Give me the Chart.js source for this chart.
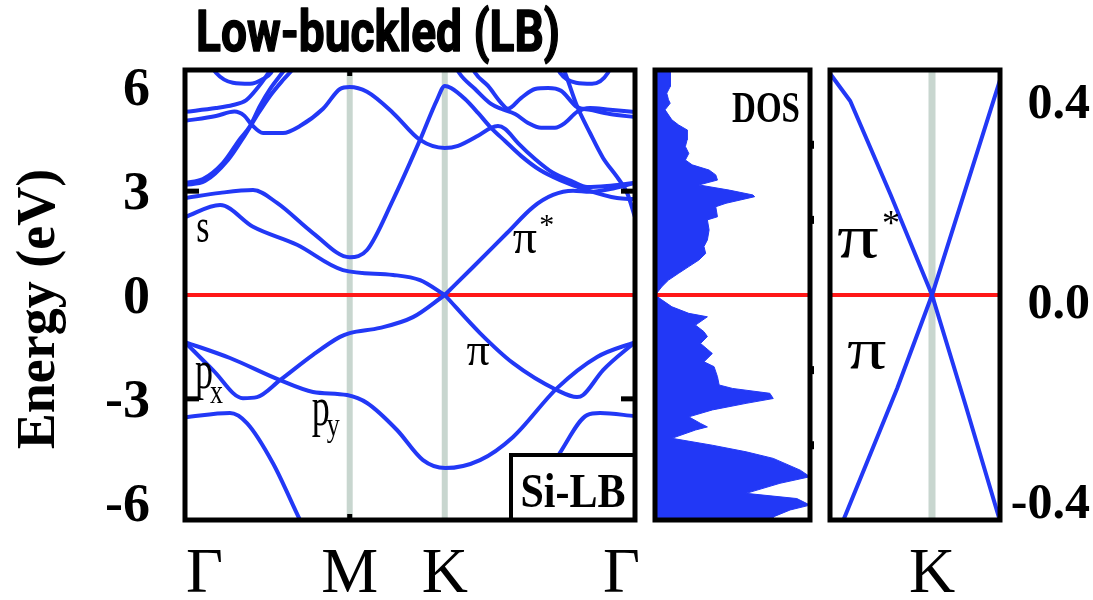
<!DOCTYPE html>
<html>
<head>
<meta charset="utf-8">
<script src="https://cdn.jsdelivr.net/npm/chart.js@4.4.1/dist/chart.umd.min.js"></script>
<style>
  html, body { margin: 0; padding: 0; background: #fff; }
  #wrap { position: relative; width: 1093px; height: 600px; }
  #wrap canvas { position: absolute; left: 0; top: 0; }
</style>
</head>
<body>
<div id="wrap">
  <canvas id="bands" width="1093" height="600"></canvas>
  <canvas id="dos" width="1093" height="600"></canvas>
  <canvas id="zoomK" width="1093" height="600"></canvas>
</div>
<script>
// path Γ-M-K-Γ, k in units of |ΓM|
const kPoints = [0, 1, 1.577, 2.732];
const kLabels = ['Γ', 'M', 'K', 'Γ'];
const energyTicks = [6, 3, 0, -3, -6];
const zoomTicks = [0.4, 0.0, -0.4];
const zoomTickLabels = ['0.4', '0.0', '-0.4'];

// bands as [k, E (eV)]
const bandS = [[0, 2.25], [0.213, 2.60], [0.413, 1.97], [0.680, 1.45], [0.959, 0.72], [1.263, 0.58], [1.427, 0.43], [1.577, 0]];
const bandC3 = [[0, 2.80], [0.213, 2.95], [0.413, 3.03], [0.559, 2.66], [0.777, 1.79], [1.0, 1.09], [1.105, 1.30], [1.263, 2.75],
  [1.427, 4.48], [1.530, 5.64], [1.577, 6.04], [1.615, 5.98], [1.700, 5.66], [1.779, 5.26], [1.858, 4.83], [1.943, 4.45],
  [2.040, 4.02], [2.155, 3.61], [2.277, 3.32], [2.441, 3.03], [2.623, 2.80], [2.732, 2.77]];
const bandC5 = [[0, 5.03], [0.188, 5.17], [0.300, 5.30], [0.360, 5.18], [0.405, 4.92], [0.474, 4.68], [0.595, 4.68], [0.698, 4.88],
  [0.838, 5.38], [0.941, 5.95], [1.0, 6.01], [1.105, 5.87], [1.263, 5.26], [1.427, 4.48], [1.577, 4.25], [1.658, 4.31],
  [1.779, 4.60], [1.858, 4.83], [1.900, 4.88], [1.943, 4.80], [2.022, 4.39], [2.125, 3.93], [2.234, 3.53], [2.356, 3.27],
  [2.441, 3.12], [2.562, 3.15], [2.732, 3.24]];
const bandC6 = [[0, 5.29], [0.188, 5.40], [0.291, 5.49], [0.370, 5.62], [0.440, 5.98], [0.490, 6.30], [0.530, 6.60], [0.570, 6.95]];
const bandC4a = [[0, 3.24], [0.109, 3.35], [0.231, 3.82], [0.334, 4.51], [0.395, 4.88], [0.455, 5.46], [0.516, 5.95], [0.595, 6.45], [0.638, 6.73]];
const bandC4b = [[0, 3.18], [0.121, 3.29], [0.261, 3.90], [0.364, 4.62], [0.443, 5.23], [0.516, 5.75], [0.595, 6.21], [0.650, 6.50], [0.686, 6.73]];
const arcLeft = [[0.14, 6.80], [0.188, 6.42], [0.291, 6.13], [0.395, 6.10], [0.474, 6.24], [0.522, 6.42], [0.56, 6.80]];
const arcRight = [[2.24, 6.80], [2.277, 6.42], [2.374, 6.13], [2.471, 6.10], [2.568, 6.42], [2.60, 6.80]];
const steepRight = [[2.27, 6.80], [2.307, 6.42], [2.380, 5.46], [2.459, 4.68], [2.538, 3.96], [2.623, 3.41], [2.684, 2.95], [2.732, 2.25]];
const diagA = [[1.61, 6.94], [1.664, 6.42], [1.761, 5.95], [1.858, 5.52], [1.919, 5.38], [2.004, 5.23], [2.083, 4.97], [2.162, 4.83],
  [2.246, 4.83], [2.307, 4.97], [2.380, 5.29], [2.459, 5.40], [2.580, 5.35], [2.732, 5.29]];
const diagB = [[1.71, 6.94], [1.761, 6.42], [1.840, 6.04], [1.919, 5.55], [1.961, 5.38], [2.040, 5.69], [2.125, 5.95], [2.204, 5.98],
  [2.283, 5.90], [2.380, 5.43], [2.459, 5.35], [2.580, 5.23], [2.732, 5.14]];
const piStarRight = [[1.577, 0], [1.749, 0.81], [1.955, 1.79], [2.113, 2.54], [2.234, 2.89], [2.356, 3.01], [2.459, 2.98], [2.580, 3.06], [2.732, 3.24]];
const bandV1 = [[0, -1.36], [0.170, -2.17], [0.352, -2.98], [0.437, -2.95], [0.577, -2.46], [0.777, -1.73], [0.941, -1.21], [1.0, -1.10],
  [1.184, -0.95], [1.384, -0.64], [1.577, 0]];
const bandV2 = [[0, -1.36], [0.273, -1.82], [0.577, -2.46], [0.777, -2.80], [0.984, -2.89], [1.105, -3.12], [1.287, -3.90], [1.445, -4.77],
  [1.58, -5.00], [1.791, -4.77], [1.992, -4.10], [2.259, -2.69], [2.502, -1.79], [2.732, -1.36]];
const bandV3 = [[1.577, 0], [1.791, -1.10], [1.992, -1.97], [2.259, -2.75], [2.380, -2.95], [2.417, -2.89], [2.538, -2.17], [2.732, -1.36]];
const bandV4 = [[0, -3.53], [0.273, -3.41], [0.376, -3.70], [0.534, -4.86], [0.698, -6.50], [0.759, -7.08]];
const bandV5 = [[1.943, -7.08], [2.065, -6.07], [2.155, -5.35], [2.259, -4.68], [2.441, -3.47], [2.520, -3.41], [2.732, -3.50]];

// density of states (arbitrary units) against energy
const dosEnergy = [6.50, 6.02, 5.83, 5.64, 5.54, 5.35, 5.06, 4.91, 4.77, 4.48, 4.29, 4.09, 3.90, 3.76, 3.61, 3.47, 3.32, 3.18,
  3.03, 2.89, 2.84, 2.65, 2.55, 2.26, 2.17, 1.88, 1.59, 1.40, 1.20, 1.01, 0.82, 0.63, 0.43, 0.24, 0.05, 0, -0.14, -0.34,
  -0.53, -0.63, -0.87, -1.06, -1.20, -1.40, -1.69, -1.93, -2.07, -2.36, -2.60, -2.70, -2.84, -2.99, -3.13, -3.32, -3.52,
  -3.71, -3.81, -3.90, -4.14, -4.34, -4.53, -4.72, -5.06, -5.25, -5.44, -5.73, -5.88, -6.07, -6.21, -6.41, -6.50];
const dosValue = [0.098, 0.098, 0.076, 0.087, 0.098, 0.065, 0.109, 0.153, 0.207, 0.207, 0.196, 0.218, 0.196, 0.240, 0.349,
  0.392, 0.403, 0.283, 0.479, 0.632, 0.643, 0.458, 0.392, 0.403, 0.338, 0.349, 0.338, 0.316, 0.327, 0.283, 0.218, 0.153,
  0.087, 0.044, 0.011, 0, 0.044, 0.109, 0.218, 0.338, 0.261, 0.316, 0.338, 0.294, 0.370, 0.316, 0.381, 0.403, 0.414, 0.501,
  0.741, 0.763, 0.588, 0.370, 0.218, 0.294, 0.338, 0.261, 0.109, 0.370, 0.588, 0.763, 0.937, 1.0, 0.806, 0.588, 0.915, 1.0,
  0.872, 0.763, 0.763];
const dosTicks = [4.34, 2.17, -2.17, -4.34];

// Dirac cone close to K, [k - K, E (eV)]
const diracA = [[-0.6, 0.443], [-0.481, 0.388], [-0.244, 0.201], [0, 0], [0.198, -0.221], [0.4, -0.452]];
const diracB = [[-0.521, -0.45], [-0.204, -0.186], [0, 0], [0.4, 0.43]];

const BLUE = 'rgb(34,56,246)';
const RED = 'rgb(255,24,24)';
const GREY = 'rgb(200,214,207)';
const SERIF = '"Liberation Serif", "Times New Roman", serif';
const LW = 4;

function text(ctx, str, x, y, font, opts) {
  const o = Object.assign({ align: 'center', base: 'alphabetic', sx: 1, sy: 1, stroke: 0 }, opts || {});
  ctx.save();
  ctx.translate(x, y);
  ctx.scale(o.sx, o.sy);
  ctx.font = font;
  ctx.fillStyle = '#000';
  ctx.textAlign = o.align;
  ctx.textBaseline = o.base;
  ctx.fillText(str, 0, 0);
  if (o.stroke) {
    ctx.strokeStyle = '#000';
    ctx.lineWidth = o.stroke;
    ctx.lineJoin = 'round';
    ctx.strokeText(str, 0, 0);
  }
  ctx.restore();
}

function frame(ctx, a, w) {
  ctx.save();
  ctx.strokeStyle = '#000';
  ctx.lineWidth = w;
  ctx.strokeRect(a.left, a.top, a.right - a.left, a.bottom - a.top);
  ctx.restore();
}

function lineSet(pts, color, width, order) {
  return {
    data: pts.map(p => ({ x: p[0], y: p[1] })),
    borderColor: color,
    borderWidth: width,
    pointRadius: 0,
    fill: false,
    cubicInterpolationMode: 'monotone',
    order: order || 0
  };
}

function hiddenScales(xmin, xmax, ymin, ymax) {
  return {
    x: { type: 'linear', min: xmin, max: xmax, display: false },
    y: { type: 'linear', min: ymin, max: ymax, display: false }
  };
}

const baseOptions = {
  responsive: false,
  animation: false,
  events: [],
  plugins: { legend: { display: false }, tooltip: { enabled: false } }
};

// ---------- band structure ----------
const bandNotes = [
  { t: 's', k: 0.109, e: 1.53, font: '34px ' + SERIF, sy: 1.4 },
  { t: 'π', k: 1.99, e: 1.21, font: '48px ' + SERIF, align: 'left' },
  { t: '*', k: 2.15, e: 1.75, font: '30px ' + SERIF, align: 'left' },
  { t: 'π', k: 1.779, e: -2.02, font: '46px ' + SERIF },
  { t: 'p', k: 0.06, e: -2.69, font: '36px ' + SERIF, align: 'left', sy: 1.5 },
  { t: 'x', k: 0.152, e: -3.12, font: '26px ' + SERIF, align: 'left', sy: 1.3 },
  { t: 'p', k: 0.77, e: -3.76, font: '36px ' + SERIF, align: 'left', sy: 1.5 },
  { t: 'y', k: 0.86, e: -4.06, font: '26px ' + SERIF, align: 'left', sy: 1.3 }
];

const bandPlugin = {
  id: 'bandDecor',
  beforeDatasetsDraw(chart) {
    const { ctx, chartArea: a, scales: { x } } = chart;
    ctx.save();
    ctx.strokeStyle = GREY;
    ctx.lineWidth = 6;
    [kPoints[1], kPoints[2]].forEach(k => {
      const px = x.getPixelForValue(k);
      ctx.beginPath();
      ctx.moveTo(px, a.top);
      ctx.lineTo(px, a.bottom);
      ctx.stroke();
    });
    ctx.restore();
  },
  afterDatasetsDraw(chart) {
    const { ctx, chartArea: a, scales: { x, y } } = chart;
    // label box in the corner
    const bx = a.right - 124, by = a.bottom - 65;
    ctx.save();
    ctx.fillStyle = '#fff';
    ctx.fillRect(bx, by, a.right - bx, a.bottom - by);
    ctx.strokeStyle = '#000';
    ctx.lineWidth = 4;
    ctx.strokeRect(bx, by, a.right - bx, a.bottom - by);
    ctx.restore();
    text(ctx, 'Si-LB', (bx + a.right) / 2, y.getPixelForValue(-6.13), 'bold 42px ' + SERIF, { sy: 1.15 });

    frame(ctx, a, 5);
    // inward tick marks
    ctx.save();
    ctx.fillStyle = '#000';
    [3, -3].forEach(e => {
      const py = y.getPixelForValue(e);
      ctx.fillRect(a.left, py - 2.5, 14, 5);
      ctx.fillRect(a.right - 14, py - 2.5, 14, 5);
    });
    const pm = x.getPixelForValue(kPoints[1]);
    ctx.fillRect(pm - 2.5, a.top, 5, 6);
    ctx.fillRect(pm - 2.5, a.bottom - 6, 5, 6);
    ctx.restore();

    bandNotes.forEach(n => {
      text(ctx, n.t, x.getPixelForValue(n.k), y.getPixelForValue(n.e), n.font, { align: n.align || 'center', sy: n.sy || 1 });
    });
  },
  afterDraw(chart) {
    const { ctx, scales: { x, y } } = chart;
    // title, squeezed to the width it has in the figure
    ctx.save();
    ctx.font = 'bold 58px Roboto';
    const w = ctx.measureText('Low-buckled (LB)').width;
    ctx.restore();
    text(ctx, 'Low-buckled (LB)', 196, 51, 'bold 58px Roboto', { align: 'left', sx: 364 / w, stroke: 1.5 });

    energyTicks.forEach(e => {
      text(ctx, String(e), 150, y.getPixelForValue(e) + 4, 'bold 54px ' + SERIF, { align: 'right', base: 'middle' });
    });

    ctx.save();
    ctx.translate(40, 309);
    ctx.rotate(-Math.PI / 2);
    text(ctx, 'Energy (eV)', 0, 0, 'bold 54px ' + SERIF, { base: 'middle' });
    ctx.restore();

    kLabels.forEach((lab, i) => {
      let align = 'center';
      let px = x.getPixelForValue(kPoints[i]);
      if (i === 0) { align = 'left'; px += 1; }
      if (i === kLabels.length - 1) { align = 'right'; px += 5; }
      text(ctx, lab, px, 592, '64px ' + SERIF, { align });
    });
  }
};

const redLine = lineSet([[kPoints[0], 0], [kPoints[3], 0]], RED, 4, 1);
redLine.cubicInterpolationMode = 'default';

new Chart(document.getElementById('bands'), {
  type: 'line',
  data: {
    datasets: [
      redLine,
      lineSet(bandS, BLUE, LW), lineSet(bandC3, BLUE, LW), lineSet(bandC5, BLUE, LW), lineSet(bandC6, BLUE, LW),
      lineSet(bandC4a, BLUE, LW), lineSet(bandC4b, BLUE, LW), lineSet(arcLeft, BLUE, LW), lineSet(arcRight, BLUE, LW),
      lineSet(steepRight, BLUE, LW), lineSet(diagA, BLUE, LW), lineSet(diagB, BLUE, LW), lineSet(piStarRight, BLUE, LW),
      lineSet(bandV1, BLUE, LW), lineSet(bandV2, BLUE, LW), lineSet(bandV3, BLUE, LW), lineSet(bandV4, BLUE, LW),
      lineSet(bandV5, BLUE, LW)
    ]
  },
  options: Object.assign({}, baseOptions, {
    layout: { padding: { left: 185, right: 1093 - 635, top: 70, bottom: 80 } },
    scales: hiddenScales(kPoints[0], kPoints[3], -6.5, 6.5)
  }),
  plugins: [bandPlugin]
});

// ---------- DOS ----------
const dosPlugin = {
  id: 'dosDecor',
  afterDatasetsDraw(chart) {
    const { ctx, chartArea: a, scales: { x, y } } = chart;
    frame(ctx, a, 5);
    ctx.save();
    ctx.fillStyle = '#000';
    dosTicks.forEach(e => ctx.fillRect(a.right - 1, y.getPixelForValue(e) - 4, 5, 8));
    ctx.restore();
    text(ctx, 'DOS', x.getPixelForValue(0.716), y.getPixelForValue(5.0), 'bold 33px ' + SERIF, { sy: 1.35 });
  }
};

new Chart(document.getElementById('dos'), {
  type: 'line',
  data: {
    datasets: [
      {
        data: [{ x: 0, y: 0 }, { x: 1, y: 0 }],
        borderColor: RED, borderWidth: 4, pointRadius: 0, fill: false, order: 0
      },
      {
        data: dosEnergy.map((e, i) => ({ x: dosValue[i], y: e })),
        borderColor: BLUE, borderWidth: 1, backgroundColor: BLUE,
        pointRadius: 0, fill: 'origin', order: 1
      }
    ]
  },
  options: Object.assign({}, baseOptions, {
    indexAxis: 'y',
    layout: { padding: { left: 655, right: 1093 - 810, top: 70, bottom: 80 } },
    scales: hiddenScales(0, 1, -6.5, 6.5)
  }),
  plugins: [dosPlugin]
});

// ---------- zoom around K ----------
const zoomNotes = [
  { t: 'π', k: -0.559, e: 0.076, font: '72px ' + SERIF, sx: 1.15, sy: 0.85 },
  { t: '*', k: -0.294, e: 0.12, font: '36px ' + SERIF, sx: 1, sy: 1 },
  { t: 'π', k: -0.50, e: -0.146, font: '68px ' + SERIF, sx: 1.15, sy: 0.85 }
];

const zoomPlugin = {
  id: 'zoomDecor',
  beforeDatasetsDraw(chart) {
    const { ctx, chartArea: a, scales: { x } } = chart;
    ctx.save();
    ctx.strokeStyle = GREY;
    ctx.lineWidth = 7;
    const px = x.getPixelForValue(0);
    ctx.beginPath();
    ctx.moveTo(px, a.top);
    ctx.lineTo(px, a.bottom);
    ctx.stroke();
    ctx.restore();
  },
  afterDatasetsDraw(chart) {
    const { ctx, chartArea: a, scales: { x, y } } = chart;
    frame(ctx, a, 5);
    zoomNotes.forEach(n => {
      text(ctx, n.t, x.getPixelForValue(n.k), y.getPixelForValue(n.e), n.font, { align: 'left', sx: n.sx, sy: n.sy });
    });
  },
  afterDraw(chart) {
    const { ctx, scales: { x, y } } = chart;
    zoomTicks.forEach((e, i) => {
      text(ctx, zoomTickLabels[i], 1090, y.getPixelForValue(e) + 10, 'bold 50px ' + SERIF, { align: 'right', base: 'middle' });
    });
    text(ctx, 'K', x.getPixelForValue(0), 592, '64px ' + SERIF);
  }
};

const zoomRed = lineSet([[-0.6, 0], [0.4, 0]], RED, 4, 1);
zoomRed.cubicInterpolationMode = 'default';
const zoomA = lineSet(diracA, BLUE, LW);
const zoomB = lineSet(diracB, BLUE, LW);
zoomA.cubicInterpolationMode = 'default';
zoomB.cubicInterpolationMode = 'default';

new Chart(document.getElementById('zoomK'), {
  type: 'line',
  data: { datasets: [zoomRed, zoomA, zoomB] },
  options: Object.assign({}, baseOptions, {
    layout: { padding: { left: 830, right: 1093 - 1000, top: 70, bottom: 80 } },
    scales: hiddenScales(-0.6, 0.4, -0.45, 0.45)
  }),
  plugins: [zoomPlugin]
});
</script>
</body>
</html>
